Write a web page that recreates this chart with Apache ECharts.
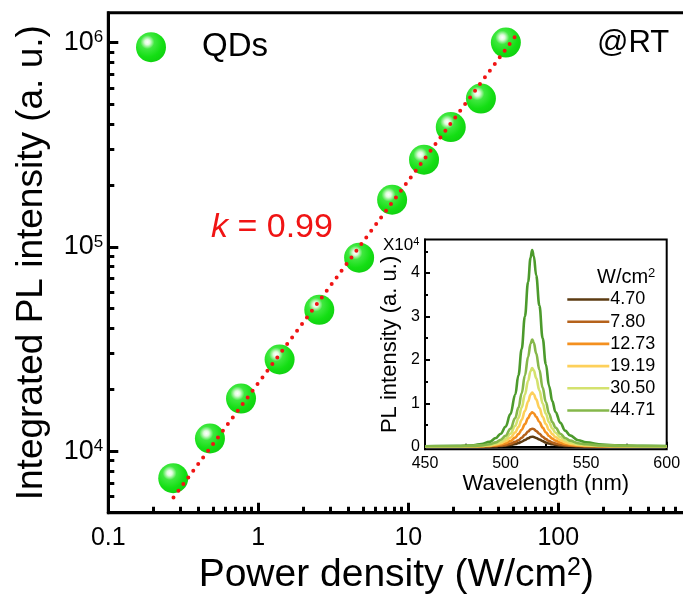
<!DOCTYPE html>
<html>
<head>
<meta charset="utf-8">
<script src="https://cdn.jsdelivr.net/npm/echarts@6/dist/echarts.min.js"></script>
<style>
  html, body { margin: 0; padding: 0; background: #fff; }
  #chart { width: 683px; height: 604px; }
</style>
</head>
<body>
<div id="chart"></div>
<script>
// ---- main panel: integrated PL vs. excitation power density (log-log) ----
const powerDensity = [0.271, 0.476, 0.767, 1.387, 2.55, 4.70, 7.80, 12.73, 19.19, 30.50, 44.71];
const integratedPL = [7380, 11540, 18100, 28100, 49200, 88500, 170100, 267000, 386000, 532000, 1000000];

// power-law fit, slope k = 0.99 in log-log space
const slopeK = 0.99;
const fitPower = [0.272, 55];
const fitPL = [5940, 1140000];

const xMajorTicks = [0.1, 1, 10, 100];
const xMinorTicks = [0.2, 0.3, 0.4, 0.5, 0.6, 0.7, 0.8, 0.9,
                     2, 3, 4, 5, 6, 7, 8, 9,
                     20, 30, 40, 50, 60, 70, 80, 90,
                     200, 300, 400, 500, 600, 700, 800, 900];
const yMajorTicks = [1e4, 1e5, 1e6];
const yMinorTicks = [6000, 7000, 8000, 9000,
                     2e4, 3e4, 4e4, 5e4, 6e4, 7e4, 8e4, 9e4,
                     2e5, 3e5, 4e5, 5e5, 6e5, 7e5, 8e5, 9e5];

// ---- inset: PL spectra (units of 10^4) ----
const wavelength = [450, 470, 480, 485, 490, 494, 497, 500, 503, 506, 508, 510, 512, 514, 515.5, 516.5,
                    517.5, 519, 521, 523, 525, 527, 529, 531, 534, 537, 540, 545, 550, 560, 570, 585, 600];
const spectrumLabels = ['4.70', '7.80', '12.73', '19.19', '30.50', '44.71'];
const spec470  = [0.004, 0.004, 0.005, 0.006, 0.008, 0.012, 0.017, 0.025, 0.04, 0.062, 0.085, 0.115, 0.153, 0.195, 0.222, 0.23,
                  0.224, 0.2, 0.165, 0.128, 0.097, 0.072, 0.055, 0.042, 0.029, 0.02, 0.015, 0.01, 0.008, 0.006, 0.005, 0.004, 0.004];
const spec780  = [0.004, 0.005, 0.006, 0.007, 0.011, 0.019, 0.028, 0.043, 0.07, 0.11, 0.15, 0.205, 0.275, 0.35, 0.4, 0.415,
                  0.405, 0.36, 0.3, 0.23, 0.175, 0.13, 0.097, 0.074, 0.05, 0.035, 0.025, 0.016, 0.011, 0.007, 0.006, 0.005, 0.004];
const spec1273 = [0.005, 0.006, 0.008, 0.011, 0.019, 0.034, 0.052, 0.08, 0.13, 0.21, 0.29, 0.39, 0.52, 0.66, 0.76, 0.79,
                  0.77, 0.69, 0.57, 0.44, 0.33, 0.245, 0.185, 0.14, 0.095, 0.065, 0.045, 0.027, 0.018, 0.01, 0.008, 0.006, 0.005];
const spec1919 = [0.006, 0.008, 0.011, 0.016, 0.03, 0.052, 0.08, 0.125, 0.205, 0.33, 0.45, 0.62, 0.82, 1.04, 1.2, 1.245,
                  1.21, 1.09, 0.89, 0.69, 0.52, 0.385, 0.29, 0.22, 0.15, 0.1, 0.07, 0.042, 0.028, 0.016, 0.011, 0.008, 0.006];
const spec3050 = [0.008, 0.01, 0.015, 0.022, 0.04, 0.075, 0.115, 0.18, 0.3, 0.48, 0.66, 0.9, 1.2, 1.52, 1.74, 1.81,
                  1.76, 1.58, 1.3, 1.0, 0.76, 0.56, 0.42, 0.32, 0.22, 0.15, 0.1, 0.06, 0.04, 0.022, 0.015, 0.01, 0.008];
const spec4471 = [0.01, 0.012, 0.02, 0.03, 0.055, 0.1, 0.16, 0.25, 0.41, 0.66, 0.9, 1.23, 1.64, 2.07, 2.37, 2.47,
                  2.4, 2.15, 1.77, 1.36, 1.03, 0.76, 0.57, 0.44, 0.3, 0.2, 0.14, 0.08, 0.055, 0.03, 0.02, 0.013, 0.01];
const specMax  = [0.01, 0.018, 0.035, 0.06, 0.11, 0.2, 0.3, 0.46, 0.75, 1.2, 1.65, 2.25, 3.0, 3.8, 4.35, 4.53,
                  4.4, 3.95, 3.25, 2.5, 1.9, 1.4, 1.05, 0.8, 0.55, 0.37, 0.26, 0.15, 0.1, 0.05, 0.03, 0.02, 0.015];
const spectrumColors = ['#5c3b12', '#b5621b', '#f4901f', '#fdd05a', '#d4e26e', '#85b74a'];
const specMaxColor = '#4c9a2c';

const insetYTicks = [0, 1, 2, 3, 4];
const insetYMinor = [0.5, 1.5, 2.5, 3.5, 4.5];

const FONT = '"Liberation Sans", Arial, Helvetica, sans-serif';
const pairs = (xs, ys) => xs.map((x, i) => [x, ys[i]]);

const sphere = {
  type: 'radial', x: 0.38, y: 0.33, r: 0.72,
  colorStops: [
    { offset: 0, color: '#ffffff' },
    { offset: 0.12, color: '#e2fbdf' },
    { offset: 0.32, color: '#3fe83f' },
    { offset: 0.7, color: '#14df14' },
    { offset: 1, color: '#10d010' }
  ]
};

const chart = echarts.init(document.getElementById('chart'), null, { renderer: 'canvas' });

const specSeries = [spec470, spec780, spec1273, spec1919, spec3050, spec4471].map((s, i) => ({
  type: 'line',
  name: spectrumLabels[i],
  xAxisIndex: 2, yAxisIndex: 2,
  data: pairs(wavelength, s),
  symbol: 'none',
  smooth: 0.4, smoothMonotone: 'x',
  lineStyle: { color: spectrumColors[i], width: 2.6 },
  itemStyle: { color: spectrumColors[i] },
  z: 7
}));

const option = {
  animation: false,
  backgroundColor: '#fff',
  textStyle: { fontFamily: FONT },
  grid: [
    { left: 108.3, top: 12.7, width: 600, height: 500, show: true, borderColor: '#000', borderWidth: 3,
      backgroundColor: 'transparent', containLabel: false, outerBoundsMode: 'none' },
    { left: 425, top: 239.5, width: 241.7, height: 209.8, show: true, borderColor: '#000', borderWidth: 2,
      backgroundColor: '#fff', containLabel: false, outerBoundsMode: 'none', z: 5 }
  ],
  xAxis: [
    { type: 'log', gridIndex: 0, min: 0.1, max: 1000, position: 'bottom',
      axisLine: { show: true, lineStyle: { color: '#000', width: 3 } },
      axisTick: { show: true, inside: true, length: 10, customValues: xMajorTicks, lineStyle: { color: '#000', width: 3 } },
      minorTick: { show: false },
      splitLine: { show: false },
      axisLabel: { show: true, customValues: xMajorTicks, color: '#000', fontSize: 25, fontFamily: FONT, margin: 13,
        formatter: v => String(+Number(v).toPrecision(3)) },
      name: 'Power density (W/cm{s|2})', nameLocation: 'middle', nameGap: 43, nameMoveOverlap: false,
      nameTextStyle: { color: '#000', fontSize: 39, fontFamily: FONT, padding: [0, 24, 0, 0],
        rich: { s: { fontSize: 25, verticalAlign: 'top', color: '#000', fontFamily: FONT } } }
    },
    { type: 'log', gridIndex: 0, min: 0.1, max: 1000, position: 'bottom',
      axisLine: { show: false },
      axisTick: { show: true, inside: true, length: 6, customValues: xMinorTicks, lineStyle: { color: '#000', width: 3 } },
      splitLine: { show: false },
      axisLabel: { show: false }
    },
    { type: 'value', gridIndex: 1, min: 450, max: 600, interval: 50, position: 'bottom', z: 6,
      axisLine: { show: true, lineStyle: { color: '#000', width: 2 } },
      axisTick: { show: true, inside: true, length: 5, lineStyle: { color: '#000', width: 2 } },
      minorTick: { show: true, splitNumber: 2, length: 3, lineStyle: { color: '#000', width: 2 } },
      splitLine: { show: false },
      axisLabel: { show: true, color: '#000', fontSize: 16, fontFamily: FONT, margin: 6,
        showMinLabel: true, showMaxLabel: true, hideOverlap: false },
      name: 'Wavelength (nm)', nameLocation: 'middle', nameGap: 24, nameMoveOverlap: false,
      nameTextStyle: { color: '#000', fontSize: 22, fontFamily: FONT }
    }
  ],
  yAxis: [
    { type: 'log', gridIndex: 0, min: 5000, max: 1.4e6, position: 'left',
      axisLine: { show: true, lineStyle: { color: '#000', width: 3 } },
      axisTick: { show: true, inside: true, length: 10, customValues: yMajorTicks, lineStyle: { color: '#000', width: 3 } },
      splitLine: { show: false },
      axisLabel: { show: true, customValues: yMajorTicks, color: '#000', fontSize: 27, fontFamily: FONT, margin: 5,
        formatter: v => '10{s|' + Math.round(Math.log10(v)) + '}',
        rich: { s: { fontSize: 17, verticalAlign: 'top', color: '#000', fontFamily: FONT } } },
      name: 'Integrated PL intensity (a. u.)', nameLocation: 'middle', nameGap: 58, nameMoveOverlap: false,
      nameTextStyle: { color: '#000', fontSize: 37, fontFamily: FONT }
    },
    { type: 'log', gridIndex: 0, min: 5000, max: 1.4e6, position: 'left',
      axisLine: { show: false },
      axisTick: { show: true, inside: true, length: 6, customValues: yMinorTicks, lineStyle: { color: '#000', width: 3 } },
      splitLine: { show: false },
      axisLabel: { show: false }
    },
    { type: 'value', gridIndex: 1, min: -0.06, max: 4.774, position: 'left', z: 6,
      axisLine: { show: true, lineStyle: { color: '#000', width: 2 } },
      axisTick: { show: true, inside: true, length: 5, customValues: insetYTicks, lineStyle: { color: '#000', width: 2 } },
      splitLine: { show: false },
      axisLabel: { show: true, customValues: insetYTicks, color: '#000', fontSize: 16, fontFamily: FONT, margin: 5 },
      name: 'PL intensity (a. u.)', nameLocation: 'middle', nameGap: 24, nameMoveOverlap: false,
      nameTextStyle: { color: '#000', fontSize: 22, fontFamily: FONT }
    },
    { type: 'value', gridIndex: 1, min: -0.06, max: 4.774, position: 'left', z: 6,
      axisLine: { show: false },
      axisTick: { show: true, inside: true, length: 3, customValues: insetYMinor, lineStyle: { color: '#000', width: 2 } },
      splitLine: { show: false },
      axisLabel: { show: false }
    }
  ],
  legend: [
    { data: ['QDs'], left: 136, top: 30.7, padding: 0, orient: 'horizontal', icon: 'circle',
      itemWidth: 30, itemHeight: 30, selectedMode: false,
      textStyle: { color: '#000', fontSize: 33, fontFamily: FONT, padding: [0, 0, 0, 31] } },
    { data: spectrumLabels, left: 566, top: 290.5, padding: 0, orient: 'vertical',
      itemWidth: 42, itemHeight: 18, itemGap: 4.2, selectedMode: false, z: 10,
      itemStyle: { opacity: 0 },
      lineStyle: { width: 2.6 },
      textStyle: { color: '#000', fontSize: 18, fontFamily: FONT, padding: [0, 0, 0, -4] } }
  ],
  series: [
    { type: 'scatter', name: 'QDs', xAxisIndex: 0, yAxisIndex: 0,
      data: pairs(powerDensity, integratedPL),
      symbol: 'circle', symbolSize: 30,
      itemStyle: { color: sphere, opacity: 1 }, z: 2 },
    { type: 'line', name: 'fit', xAxisIndex: 0, yAxisIndex: 0,
      data: pairs(fitPower, fitPL),
      symbol: 'none', silent: true,
      lineStyle: { color: '#f01414', width: 4, type: [0, 8.3], cap: 'round' }, z: 4 },
    { type: 'line', name: 'max', xAxisIndex: 2, yAxisIndex: 2,
      data: pairs(wavelength, specMax), symbol: 'none',
      smooth: 0.4, smoothMonotone: 'x',
      lineStyle: { color: specMaxColor, width: 2.6 }, z: 7 },
    ...specSeries
  ],
  graphic: [
    { type: 'text', left: 597, top: 28, z: 20,
      style: { text: '@RT', fill: '#000', font: '31px ' + FONT } },
    { type: 'text', x: 211, y: 228, z: 20,
      style: { text: '{i|k}{n| = ' + slopeK.toFixed(2) + '}', fill: '#f01414', verticalAlign: 'middle',
        rich: { i: { fontStyle: 'italic', fontSize: 34, fontFamily: FONT, fill: '#f01414' },
                n: { fontSize: 34, fontFamily: FONT, fill: '#f01414' } } } },
    { type: 'text', x: 383, y: 245, z: 20,
      style: { text: 'X10{s|4}', fill: '#000', verticalAlign: 'middle', font: '17px ' + FONT,
        rich: { s: { fontSize: 11, verticalAlign: 'top', fontFamily: FONT, fill: '#000' } } } },
    { type: 'text', x: 597, y: 277, z: 20,
      style: { text: 'W/cm{s|2}', fill: '#000', verticalAlign: 'middle', font: '20px ' + FONT,
        rich: { s: { fontSize: 13, verticalAlign: 'top', fontFamily: FONT, fill: '#000' } } } }
  ]
};

chart.setOption(option);
</script>
</body>
</html>
